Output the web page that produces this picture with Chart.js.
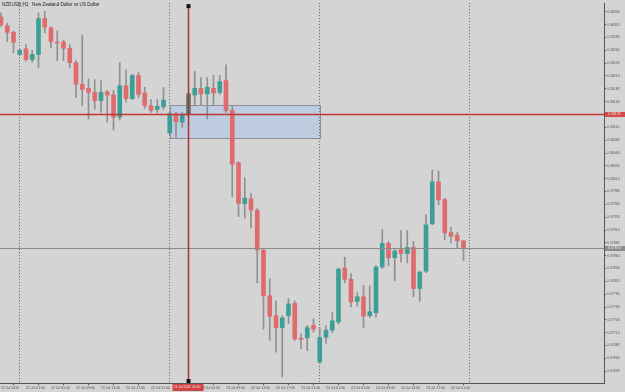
<!DOCTYPE html>
<html>
<head>
<meta charset="utf-8">
<script src="https://cdn.jsdelivr.net/npm/chart.js@4.4.1/dist/chart.umd.min.js"></script>
<style>
html, body { margin: 0; padding: 0; background: #d4d4d4; }
#wrap { width: 625px; height: 392px; }
</style>
</head>
<body>
<div id="wrap"><canvas id="myChart" width="625" height="392"></canvas></div>
<script>
// NZDUSD H1 candles, one entry per hour (index 0 = leftmost bar)
const symbolTitle = 'NZDUSD,H1:  New Zealand Dollar vs US Dollar';

const opens = [0.58325, 0.58308, 0.58295, 0.58252, 0.58263, 0.58242, 0.58252, 0.58322, 0.58304, 0.58275,
  0.58276, 0.58264, 0.58236, 0.58194, 0.58186, 0.58178, 0.58162, 0.58179, 0.58173, 0.58130,
  0.58191, 0.58166, 0.58211, 0.58177, 0.58152, 0.58145, 0.58150, 0.58099, 0.58136, 0.58120,
  0.58136, 0.58173, 0.58186, 0.58175, 0.58186, 0.58178, 0.58201, 0.58143, 0.58041, 0.57961,
  0.57971, 0.57948, 0.57871, 0.57782, 0.57743, 0.57720, 0.57743, 0.57767, 0.57699, 0.57700,
  0.57724, 0.57653, 0.57701, 0.57715, 0.57731, 0.57836, 0.57814, 0.57771, 0.57780, 0.57743,
  0.57749, 0.57838, 0.57884, 0.57856, 0.57872, 0.57864, 0.57876, 0.57796, 0.57830, 0.57922,
  0.58004, 0.57969, 0.57905, 0.57900, 0.57889];
const highs = [0.58333, 0.58313, 0.58298, 0.58262, 0.58271, 0.58260, 0.58333, 0.58336, 0.58306, 0.58298,
  0.58280, 0.58271, 0.58240, 0.58290, 0.58204, 0.58203, 0.58201, 0.58182, 0.58182, 0.58236,
  0.58222, 0.58213, 0.58217, 0.58188, 0.58164, 0.58164, 0.58188, 0.58141, 0.58139, 0.58139,
  0.58178, 0.58219, 0.58207, 0.58207, 0.58211, 0.58211, 0.58232, 0.58153, 0.58043, 0.58012,
  0.57981, 0.57952, 0.57875, 0.57815, 0.57772, 0.57743, 0.57776, 0.57772, 0.57708, 0.57724,
  0.57737, 0.57720, 0.57724, 0.57749, 0.57836, 0.57857, 0.57825, 0.57788, 0.57802, 0.57801,
  0.57840, 0.57911, 0.57888, 0.57872, 0.57909, 0.57909, 0.57888, 0.57830, 0.57940, 0.58027,
  0.58025, 0.57972, 0.57915, 0.57906, 0.57889];
const lows = [0.58306, 0.58277, 0.58255, 0.58250, 0.58239, 0.58237, 0.58226, 0.58294, 0.58265, 0.58240,
  0.58240, 0.58226, 0.58168, 0.58152, 0.58126, 0.58145, 0.58139, 0.58120, 0.58105, 0.58124,
  0.58159, 0.58164, 0.58168, 0.58147, 0.58139, 0.58139, 0.58145, 0.58095, 0.58091, 0.58110,
  0.58134, 0.58153, 0.58153, 0.58126, 0.58153, 0.58174, 0.58139, 0.57975, 0.57936, 0.57933,
  0.57914, 0.57807, 0.57717, 0.57695, 0.57672, 0.57624, 0.57728, 0.57695, 0.57679, 0.57675,
  0.57711, 0.57650, 0.57689, 0.57710, 0.57727, 0.57807, 0.57760, 0.57762, 0.57720, 0.57740,
  0.57740, 0.57835, 0.57840, 0.57811, 0.57848, 0.57846, 0.57780, 0.57771, 0.57827, 0.57920,
  0.57959, 0.57891, 0.57885, 0.57874, 0.57851];
const closes = [0.58310, 0.58295, 0.58276, 0.58260, 0.58242, 0.58252, 0.58322, 0.58305, 0.58277, 0.58274,
  0.58264, 0.58236, 0.58194, 0.58184, 0.58178, 0.58162, 0.58178, 0.58173, 0.58130, 0.58191,
  0.58166, 0.58211, 0.58174, 0.58152, 0.58143, 0.58151, 0.58163, 0.58137, 0.58121, 0.58134,
  0.58175, 0.58186, 0.58175, 0.58188, 0.58177, 0.58199, 0.58143, 0.58038, 0.57962, 0.57972,
  0.57949, 0.57871, 0.57782, 0.57742, 0.57720, 0.57739, 0.57766, 0.57698, 0.57697, 0.57720,
  0.57717, 0.57701, 0.57715, 0.57733, 0.57834, 0.57814, 0.57770, 0.57780, 0.57742, 0.57751,
  0.57838, 0.57884, 0.57856, 0.57869, 0.57864, 0.57876, 0.57796, 0.57828, 0.57920, 0.58004,
  0.57969, 0.57904, 0.57898, 0.57889, 0.57874];

// price axis labels
const priceTicks = [0.57635, 0.57660, 0.57685, 0.57710, 0.57735, 0.57760, 0.57785, 0.57810, 0.57835, 0.57860,
  0.57885, 0.57910, 0.57935, 0.57960, 0.57985, 0.58010, 0.58035, 0.58060, 0.58085, 0.58110,
  0.58135, 0.58160, 0.58185, 0.58210, 0.58235, 0.58260, 0.58285, 0.58310, 0.58335];

// time axis labels (bar index -> text)
const timeTicks = [0, 4, 8, 12, 16, 20, 24, 32, 36, 40, 44, 48, 52, 56, 60, 64, 68, 72];
const timeLabels = ['22 Jul 2026', '22 Jul 01:00', '22 Jul 05:00', '22 Jul 09:00', '22 Jul 13:00', '22 Jul 17:00',
  '22 Jul 21:00', '23 Jul 05:00', '23 Jul 09:00', '23 Jul 13:00', '23 Jul 17:00', '23 Jul 21:00',
  '24 Jul 01:00', '24 Jul 05:00', '24 Jul 09:00', '24 Jul 13:00', '24 Jul 17:00', '24 Jul 21:00'];

// objects on the chart
const daySeparators = [3, 27, 51, 75];
const zoneBars = [27, 51];
const zonePrices = [0.58153, 0.58089];
const levelPrice = 0.58135;
const crossBar = 30;
const crossLabel = '23 Jul 2026 03:00';
const bidPrice = closes[closes.length - 1];

const bullColor = '#3c9f95';
const bearColor = '#e06b6d';

const bodies = opens.map((o, i) => ({ x: i, y: [o, closes[i]] }));
const wicks = highs.map((h, i) => ({ x: i, y: [lows[i], h] }));
const bodyColors = opens.map((o, i) => {
    if (i === crossBar) return '#5d7f74';
    return closes[i] >= o ? bullColor : bearColor;
});

const FONT = 'Liberation Sans';

const overlayPlugin = {
    id: 'overlay',
    beforeDatasetsDraw(chart) {
        const ctx = chart.ctx;
        const xs = chart.scales.x, ys = chart.scales.y, area = chart.chartArea;
        ctx.save();
        // zone rectangle
        const x1 = xs.getPixelForValue(zoneBars[0]), x2 = xs.getPixelForValue(zoneBars[1]);
        const y1 = ys.getPixelForValue(zonePrices[0]), y2 = ys.getPixelForValue(zonePrices[1]);
        ctx.fillStyle = 'rgba(160,192,240,0.42)';
        ctx.fillRect(x1, y1, x2 - x1, y2 - y1);
        ctx.strokeStyle = '#8a8f98';
        ctx.lineWidth = 1;
        ctx.strokeRect(Math.round(x1) + 0.5, Math.round(y1) + 0.5, Math.round(x2 - x1), Math.round(y2 - y1));
        // day separators
        ctx.strokeStyle = '#606060';
        ctx.setLineDash([1, 2]);
        daySeparators.forEach(b => {
            const x = Math.round(xs.getPixelForValue(b)) - 0.5;
            ctx.beginPath();
            ctx.moveTo(x, area.top);
            ctx.lineTo(x, area.bottom);
            ctx.stroke();
        });
        ctx.restore();
    },
    afterDatasetsDraw(chart) {
        const ctx = chart.ctx;
        const xs = chart.scales.x, ys = chart.scales.y, area = chart.chartArea;
        ctx.save();
        // bid line
        const yb = Math.round(ys.getPixelForValue(bidPrice)) + 0.5;
        ctx.strokeStyle = '#8c8c8c';
        ctx.lineWidth = 1;
        ctx.beginPath();
        ctx.moveTo(area.left, yb);
        ctx.lineTo(area.right, yb);
        ctx.stroke();
        // red horizontal level
        const yl = ys.getPixelForValue(levelPrice);
        ctx.strokeStyle = '#bf3636';
        ctx.lineWidth = 1.5;
        ctx.beginPath();
        ctx.moveTo(area.left, yl);
        ctx.lineTo(area.right, yl);
        ctx.stroke();
        // red vertical line
        const xc = xs.getPixelForValue(crossBar);
        ctx.strokeStyle = '#b32f2f';
        ctx.beginPath();
        ctx.moveTo(xc, area.top + 3);
        ctx.lineTo(xc, area.bottom);
        ctx.stroke();
        ctx.fillStyle = '#111';
        ctx.fillRect(xc - 2, area.top + 1, 4, 4);
        ctx.fillRect(xc - 2, area.bottom - 4, 4, 4);
        // title
        ctx.fillStyle = '#222';
        ctx.font = '4.6px "' + FONT + '"';
        ctx.textBaseline = 'middle';
        ctx.textAlign = 'left';
        ctx.fillText(symbolTitle, 2, 5);
        ctx.restore();
    },
    afterDraw(chart) {
        const ctx = chart.ctx;
        const xs = chart.scales.x, ys = chart.scales.y, area = chart.chartArea;
        ctx.save();
        ctx.font = '3.5px "' + FONT + '"';
        ctx.textBaseline = 'middle';
        ctx.textAlign = 'left';
        // level label
        const yl = ys.getPixelForValue(levelPrice);
        ctx.fillStyle = '#d24a4a';
        ctx.fillRect(area.right + 1, yl - 2.5, 20, 5);
        ctx.fillStyle = '#f4dede';
        ctx.fillText(levelPrice.toFixed(5), area.right + 4, yl);
        // bid label
        const yb = ys.getPixelForValue(bidPrice);
        ctx.fillStyle = '#8e8e8e';
        ctx.fillRect(area.right + 1, yb - 2.5, 20, 5);
        ctx.fillStyle = '#eeeeee';
        ctx.fillText(bidPrice.toFixed(5), area.right + 4, yb);
        // crosshair time label
        const xc = xs.getPixelForValue(crossBar);
        ctx.fillStyle = '#d04444';
        ctx.fillRect(xc - 16, area.bottom + 1, 31, 7);
        ctx.fillStyle = '#f6e0e0';
        ctx.font = '3.4px "' + FONT + '"';
        ctx.fillText(crossLabel, xc - 15, area.bottom + 4.5);
        ctx.restore();
    }
};

new Chart(document.getElementById('myChart').getContext('2d'), {
    type: 'bar',
    data: {
        datasets: [{
            label: 'body',
            data: bodies,
            backgroundColor: bodyColors,
            borderWidth: 0,
            barThickness: 4,
            minBarLength: 1,
            grouped: false
        }, {
            label: 'wick',
            data: wicks,
            backgroundColor: '#909090',
            borderWidth: 0,
            barThickness: 1,
            grouped: false
        }]
    },
    options: {
        responsive: false,
        animation: false,
        devicePixelRatio: 1,
        layout: { padding: 0 },
        plugins: {
            legend: { display: false },
            tooltip: { enabled: false }
        },
        scales: {
            x: {
                type: 'linear',
                min: -0.16,
                max: 96.48,
                offset: false,
                afterBuildTicks: scale => { scale.ticks = timeTicks.map(v => ({ value: v })); },
                afterFit: scale => { scale.height = 9; },
                border: { display: true, color: '#555', width: 1 },
                grid: { display: true, drawOnChartArea: false, drawTicks: true, tickLength: 2, color: '#555' },
                ticks: {
                    autoSkip: false,
                    maxRotation: 0,
                    align: 'start',
                    padding: 1,
                    color: '#555',
                    font: { family: FONT, size: 3.5 },
                    callback: value => timeLabels[timeTicks.indexOf(value)]
                }
            },
            y: {
                position: 'right',
                min: 0.57612,
                max: 0.58352,
                afterBuildTicks: scale => { scale.ticks = priceTicks.map(v => ({ value: v })); },
                afterFit: scale => { scale.width = 21; },
                border: { display: true, color: '#555', width: 1 },
                grid: { display: true, drawOnChartArea: false, drawTicks: true, tickLength: 2, color: '#555' },
                ticks: {
                    autoSkip: false,
                    padding: 1,
                    color: '#555',
                    font: { family: FONT, size: 3.5 },
                    callback: value => value.toFixed(5)
                }
            }
        }
    },
    plugins: [overlayPlugin]
});
</script>
</body>
</html>
